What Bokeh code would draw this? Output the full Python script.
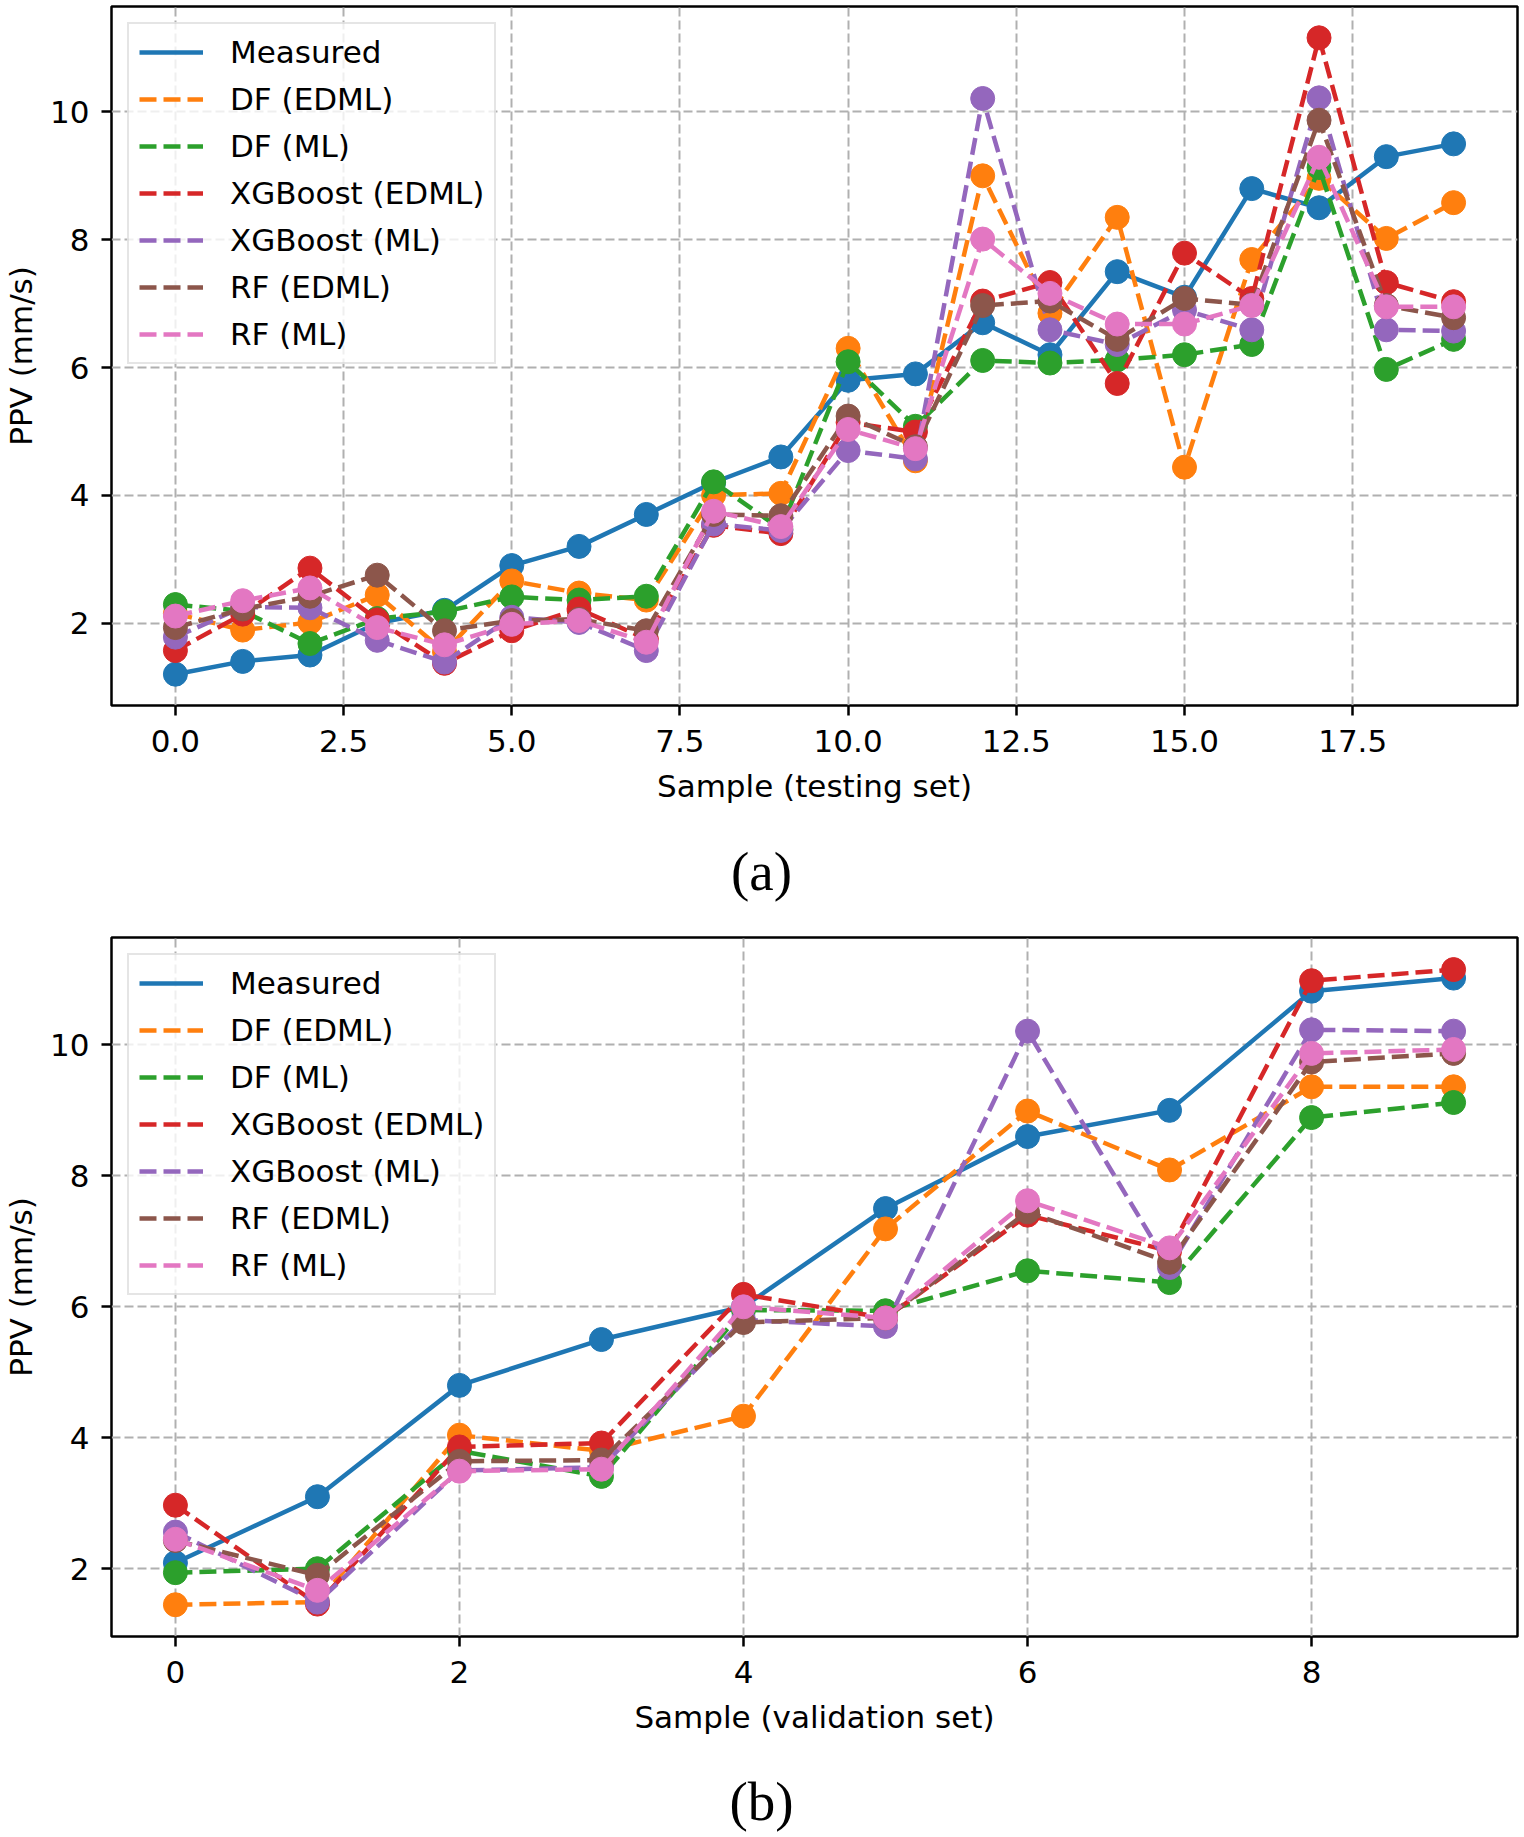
from bokeh.plotting import figure
from bokeh.models import Range1d, FixedTicker, Legend, LegendItem
from bokeh.core.properties import value
from bokeh.layouts import column
from bokeh.embed import file_html
from bokeh.resources import INLINE

# ---------------- data ----------------
series_names = ["Measured", "DF (EDML)", "DF (ML)", "XGBoost (EDML)",
                "XGBoost (ML)", "RF (EDML)", "RF (ML)"]
colors = ["#1f77b4", "#ff7f0e", "#2ca02c", "#d62728", "#9467bd", "#8c564b", "#e377c2"]

# (a) testing set
x_test = list(range(20))
measured_a = [1.2, 1.4, 1.5, 2.0, 2.2, 2.9, 3.2, 3.7, 4.2, 4.6, 5.8, 5.9, 6.7, 6.2, 7.5, 7.1, 8.8, 8.5, 9.3, 9.5]
df_edml_a = [2.15, 1.89, 2.01, 2.44, 1.55, 2.66, 2.47, 2.36, 4.0, 4.03, 6.3, 4.54, 9.0, 6.85, 8.35, 4.44, 7.69, 8.96, 8.02, 8.58]
df_ml_a = [2.29, 2.19, 1.68, 2.07, 2.18, 2.41, 2.36, 2.42, 4.21, 3.47, 6.09, 5.08, 6.11, 6.07, 6.12, 6.2, 6.36, 9.13, 5.97, 6.44]
xgb_edml_a = [1.57, 2.14, 2.86, 2.05, 1.37, 1.88, 2.22, 1.75, 3.53, 3.40, 5.14, 4.99, 7.04, 7.33, 5.75, 7.79, 7.08, 11.16, 7.33, 7.03]
xgb_ml_a = [1.78, 2.25, 2.24, 1.73, 1.39, 2.09, 2.01, 1.57, 3.55, 3.45, 4.70, 4.57, 10.21, 6.59, 6.36, 6.9, 6.59, 10.22, 6.59, 6.57]
rf_edml_a = [1.93, 2.22, 2.42, 2.75, 1.88, 2.04, 2.06, 1.88, 3.70, 3.68, 5.24, 4.76, 6.97, 7.04, 6.44, 7.08, 6.98, 9.87, 6.97, 6.78]
rf_ml_a = [2.11, 2.35, 2.55, 1.93, 1.66, 1.98, 2.04, 1.70, 3.75, 3.51, 5.03, 4.73, 8.01, 7.16, 6.68, 6.68, 6.97, 9.29, 6.95, 6.95]

# (b) validation set
x_val = list(range(10))
measured_b = [2.09, 3.10, 4.80, 5.50, 6.0, 7.50, 8.60, 9.0, 10.82, 11.02]
df_edml_b = [1.45, 1.49, 4.04, 3.80, 4.33, 7.19, 8.99, 8.09, 9.36, 9.36]
df_ml_b = [1.94, 2.0, 3.80, 3.41, 5.95, 5.94, 6.55, 6.37, 8.89, 9.12]
xgb_edml_b = [2.97, 1.46, 3.86, 3.92, 6.19, 5.83, 7.40, 6.85, 10.98, 11.15]
xgb_ml_b = [2.56, 1.49, 3.50, 3.55, 5.80, 5.70, 10.21, 6.60, 10.23, 10.21]
rf_edml_b = [2.43, 1.90, 3.64, 3.66, 5.76, 5.83, 7.45, 6.68, 9.74, 9.87]
rf_ml_b = [2.45, 1.67, 3.49, 3.52, 6.0, 5.83, 7.62, 6.90, 9.87, 9.93]

x_ticks_a = [0, 2.5, 5, 7.5, 10, 12.5, 15, 17.5]
x_tick_labels_a = ["0.0", "2.5", "5.0", "7.5", "10.0", "12.5", "15.0", "17.5"]
x_ticks_b = [0, 2, 4, 6, 8]
x_tick_labels_b = ["0", "2", "4", "6", "8"]
y_ticks = [2, 4, 6, 8, 10]
y_tick_labels = ["2", "4", "6", "8", "10"]

FONT = "DejaVu Sans"
FS = "31px"
W = 1524
LEFT, RIGHT = 111, 7


def make_panel(xs, ys_list, xr, yr, xticks, xlabels, xlabel,
               height, top_border, bottom_border):
    p = figure(width=W, height=height, output_backend="svg", toolbar_location=None,
               x_range=Range1d(*xr), y_range=Range1d(*yr),
               min_border_left=LEFT, min_border_right=RIGHT,
               min_border_top=top_border, min_border_bottom=bottom_border)
    p.background_fill_color = "white"
    p.border_fill_color = "white"
    p.outline_line_color = "black"
    p.outline_line_width = 2.5

    for ax in (p.xaxis[0], p.yaxis[0]):
        ax.axis_line_color = None
        ax.major_tick_line_color = "black"
        ax.major_tick_line_width = 2.5
        ax.major_tick_out = 10
        ax.major_tick_in = 0
        ax.minor_tick_line_color = None
        ax.major_label_text_font = FONT
        ax.major_label_text_font_size = FS
        ax.major_label_text_color = "black"
        ax.axis_label_text_font = FONT
        ax.axis_label_text_font_size = FS
        ax.axis_label_text_font_style = "normal"
        ax.axis_label_text_color = "black"

    p.xaxis.major_label_standoff = 14
    p.yaxis.major_label_standoff = 12
    p.xaxis.ticker = FixedTicker(ticks=xticks)
    p.xaxis.major_label_overrides = {t: l for t, l in zip(xticks, xlabels)}
    p.yaxis.ticker = FixedTicker(ticks=y_ticks)
    p.yaxis.major_label_overrides = {t: l for t, l in zip(y_ticks, y_tick_labels)}
    p.xaxis.axis_label = xlabel
    p.yaxis.axis_label = "PPV (mm/s)"
    p.xaxis.axis_label_standoff = 13
    p.yaxis.axis_label_standoff = 8

    p.grid.grid_line_color = "#b0b0b0"
    p.grid.grid_line_width = 2
    p.grid.grid_line_dash = "9 4"

    items = []
    for i, (name, col, ys) in enumerate(zip(series_names, colors, ys_list)):
        dash = "solid" if i == 0 else "17 7"
        r = p.line(xs, ys, line_color=col, line_width=4.5, line_dash=dash)
        p.scatter(xs, ys, marker="circle", size=24, fill_color=col, line_color=col)
        items.append(LegendItem(label=name, renderers=[r]))

    legend = Legend(items=items, location="top_left", margin=16, padding=10,
                    spacing=11, glyph_width=64, glyph_height=30, label_height=30,
                    label_standoff=27, label_text_font=FONT, label_text_font_size=FS,
                    label_text_color="black",
                    border_line_color="#cccccc", border_line_width=2,
                    background_fill_color="white", background_fill_alpha=0.8)
    p.add_layout(legend)
    return p


def make_caption(text, height, y_center):
    # frame spans the same horizontal extent as the chart frames; x in page pixels
    c = figure(width=W, height=height, output_backend="svg", toolbar_location=None,
               x_range=Range1d(LEFT, W - RIGHT), y_range=Range1d(0, height),
               x_axis_type=None, y_axis_type=None,
               min_border_left=LEFT, min_border_right=RIGHT,
               min_border_top=0, min_border_bottom=0)
    c.outline_line_color = None
    c.background_fill_color = "white"
    c.border_fill_color = "white"
    c.text(x=[761], y=[y_center], text=[text], text_align="center", text_baseline="middle",
           text_font=value("Liberation Serif"), text_font_size="55px", text_color="black")
    return c


top = make_panel(x_test,
                 [measured_a, df_edml_a, df_ml_a, xgb_edml_a, xgb_ml_a, rf_edml_a, rf_ml_a],
                 (-0.95, 19.95), (0.71, 11.65), x_ticks_a, x_tick_labels_a,
                 "Sample (testing set)", 820, 6, 115)
cap_a = make_caption("(a)", 95, 44)
bottom = make_panel(x_val,
                    [measured_b, df_edml_b, df_ml_b, xgb_edml_b, xgb_ml_b, rf_edml_b, rf_ml_b],
                    (-0.45, 9.45), (0.965, 11.64), x_ticks_b, x_tick_labels_b,
                    "Sample (validation set)", 842, 22, 121)
cap_b = make_caption("(b)", 80, 36)

layout = column(top, cap_a, bottom, cap_b, spacing=0)
open("out.html", "w").write(file_html(layout, INLINE))
